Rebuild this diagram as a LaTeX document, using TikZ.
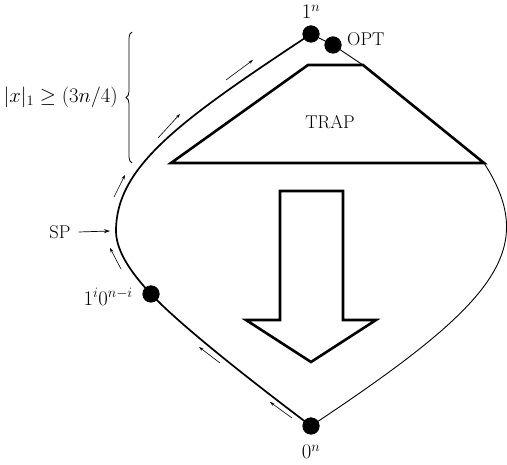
\documentclass[tikz,border=0pt]{standalone}
\usetikzlibrary{decorations.pathreplacing,arrows.meta}
\begin{document}
\begin{tikzpicture}[x=1pt,y=-1pt,
  lbl/.style={font=\fontsize{18.5}{21}\selectfont, inner sep=0pt},
  mlbl/.style={font=\fontsize{20}{23}\selectfont, inner sep=0pt},
  dot/.style={circle, fill=black, minimum size=17pt, inner sep=0pt},
  thickln/.style={line width=2.6pt, line join=miter},
  pathln/.style={line width=1.7pt},
  thinln/.style={line width=0.9pt},
  smallarr/.style={line width=0.6pt, -{Stealth[length=4.5pt,width=3pt]}}]
\useasboundingbox (0,0) rectangle (507,465);
% dots
\node[dot] (top) at (311,34) {};
\node[dot] (opt) at (333,45) {};
\node[dot] (bot) at (311,426) {};
\node[dot] (mid) at (151,294) {};
\coordinate (sp) at (116,231);
% trapezoid
\coordinate (tl) at (308,65);
\coordinate (tr) at (363,65);
\coordinate (br) at (484,163);
\coordinate (bl) at (171,163);
\draw[thickln] (tl) -- (tr) -- (br) -- (bl) -- cycle;
\node[lbl] (trap) at (330,122) {TRAP};
% big arrow
\draw[thickln] (280,191) -- (343,191) -- (343,320) -- (376,320) -- (311,362) -- (246,320) -- (280,320) -- cycle;
% left path
\draw[pathln] (bot.center) .. controls (250,380) and (180,325) .. (mid.center)
  .. controls (133,275) and (116,252) .. (sp)
  .. controls (116,166) and (181,120) .. (top.center);
% thin line to trap
\draw[thinln] (top.center) -- (opt.center) -- (tr);
% right thin curve
\draw[thinln] (br) .. controls (540,250) and (495,304) .. (bot.center);
% redraw dots on top
\node[dot] at (top) {};
\node[dot] at (opt) {};
\node[dot] at (bot) {};
\node[dot] at (mid) {};
% small arrows
\draw[smallarr] (226,80) -- (253,60);
\draw[smallarr] (158,138) -- (180,114);
\draw[smallarr] (114,197) -- (125,175);
\draw[smallarr] (121,269) -- (110,248);
\draw[smallarr] (220,363) -- (199,347);
\draw[smallarr] (292,418) -- (270,402);
% labels
\node[mlbl] (ltop) at (311,12) {$1^n$};
\node[mlbl] (lbot) at (311,452) {$0^n$};
\node[mlbl, anchor=east] (lmid) at (133,297) {$1^i0^{n-i}$};
\node[lbl, anchor=west] (lopt) at (347,39) {OPT};
\node[lbl] (lsp) at (60,232) {SP};
\draw[line width=0.7pt, -{Stealth[length=6pt,width=4pt]}] (lsp.east) ++(8,0) coordinate (spa) -- (110,231);
\node[mlbl, anchor=east] (lcond) at (118,97) {$|x|_1\geq(3n/4)$};
\draw[line width=0.8pt, decorate, decoration={brace, amplitude=6pt}] (132,163) -- (132,32);
\end{tikzpicture}
\end{document}
